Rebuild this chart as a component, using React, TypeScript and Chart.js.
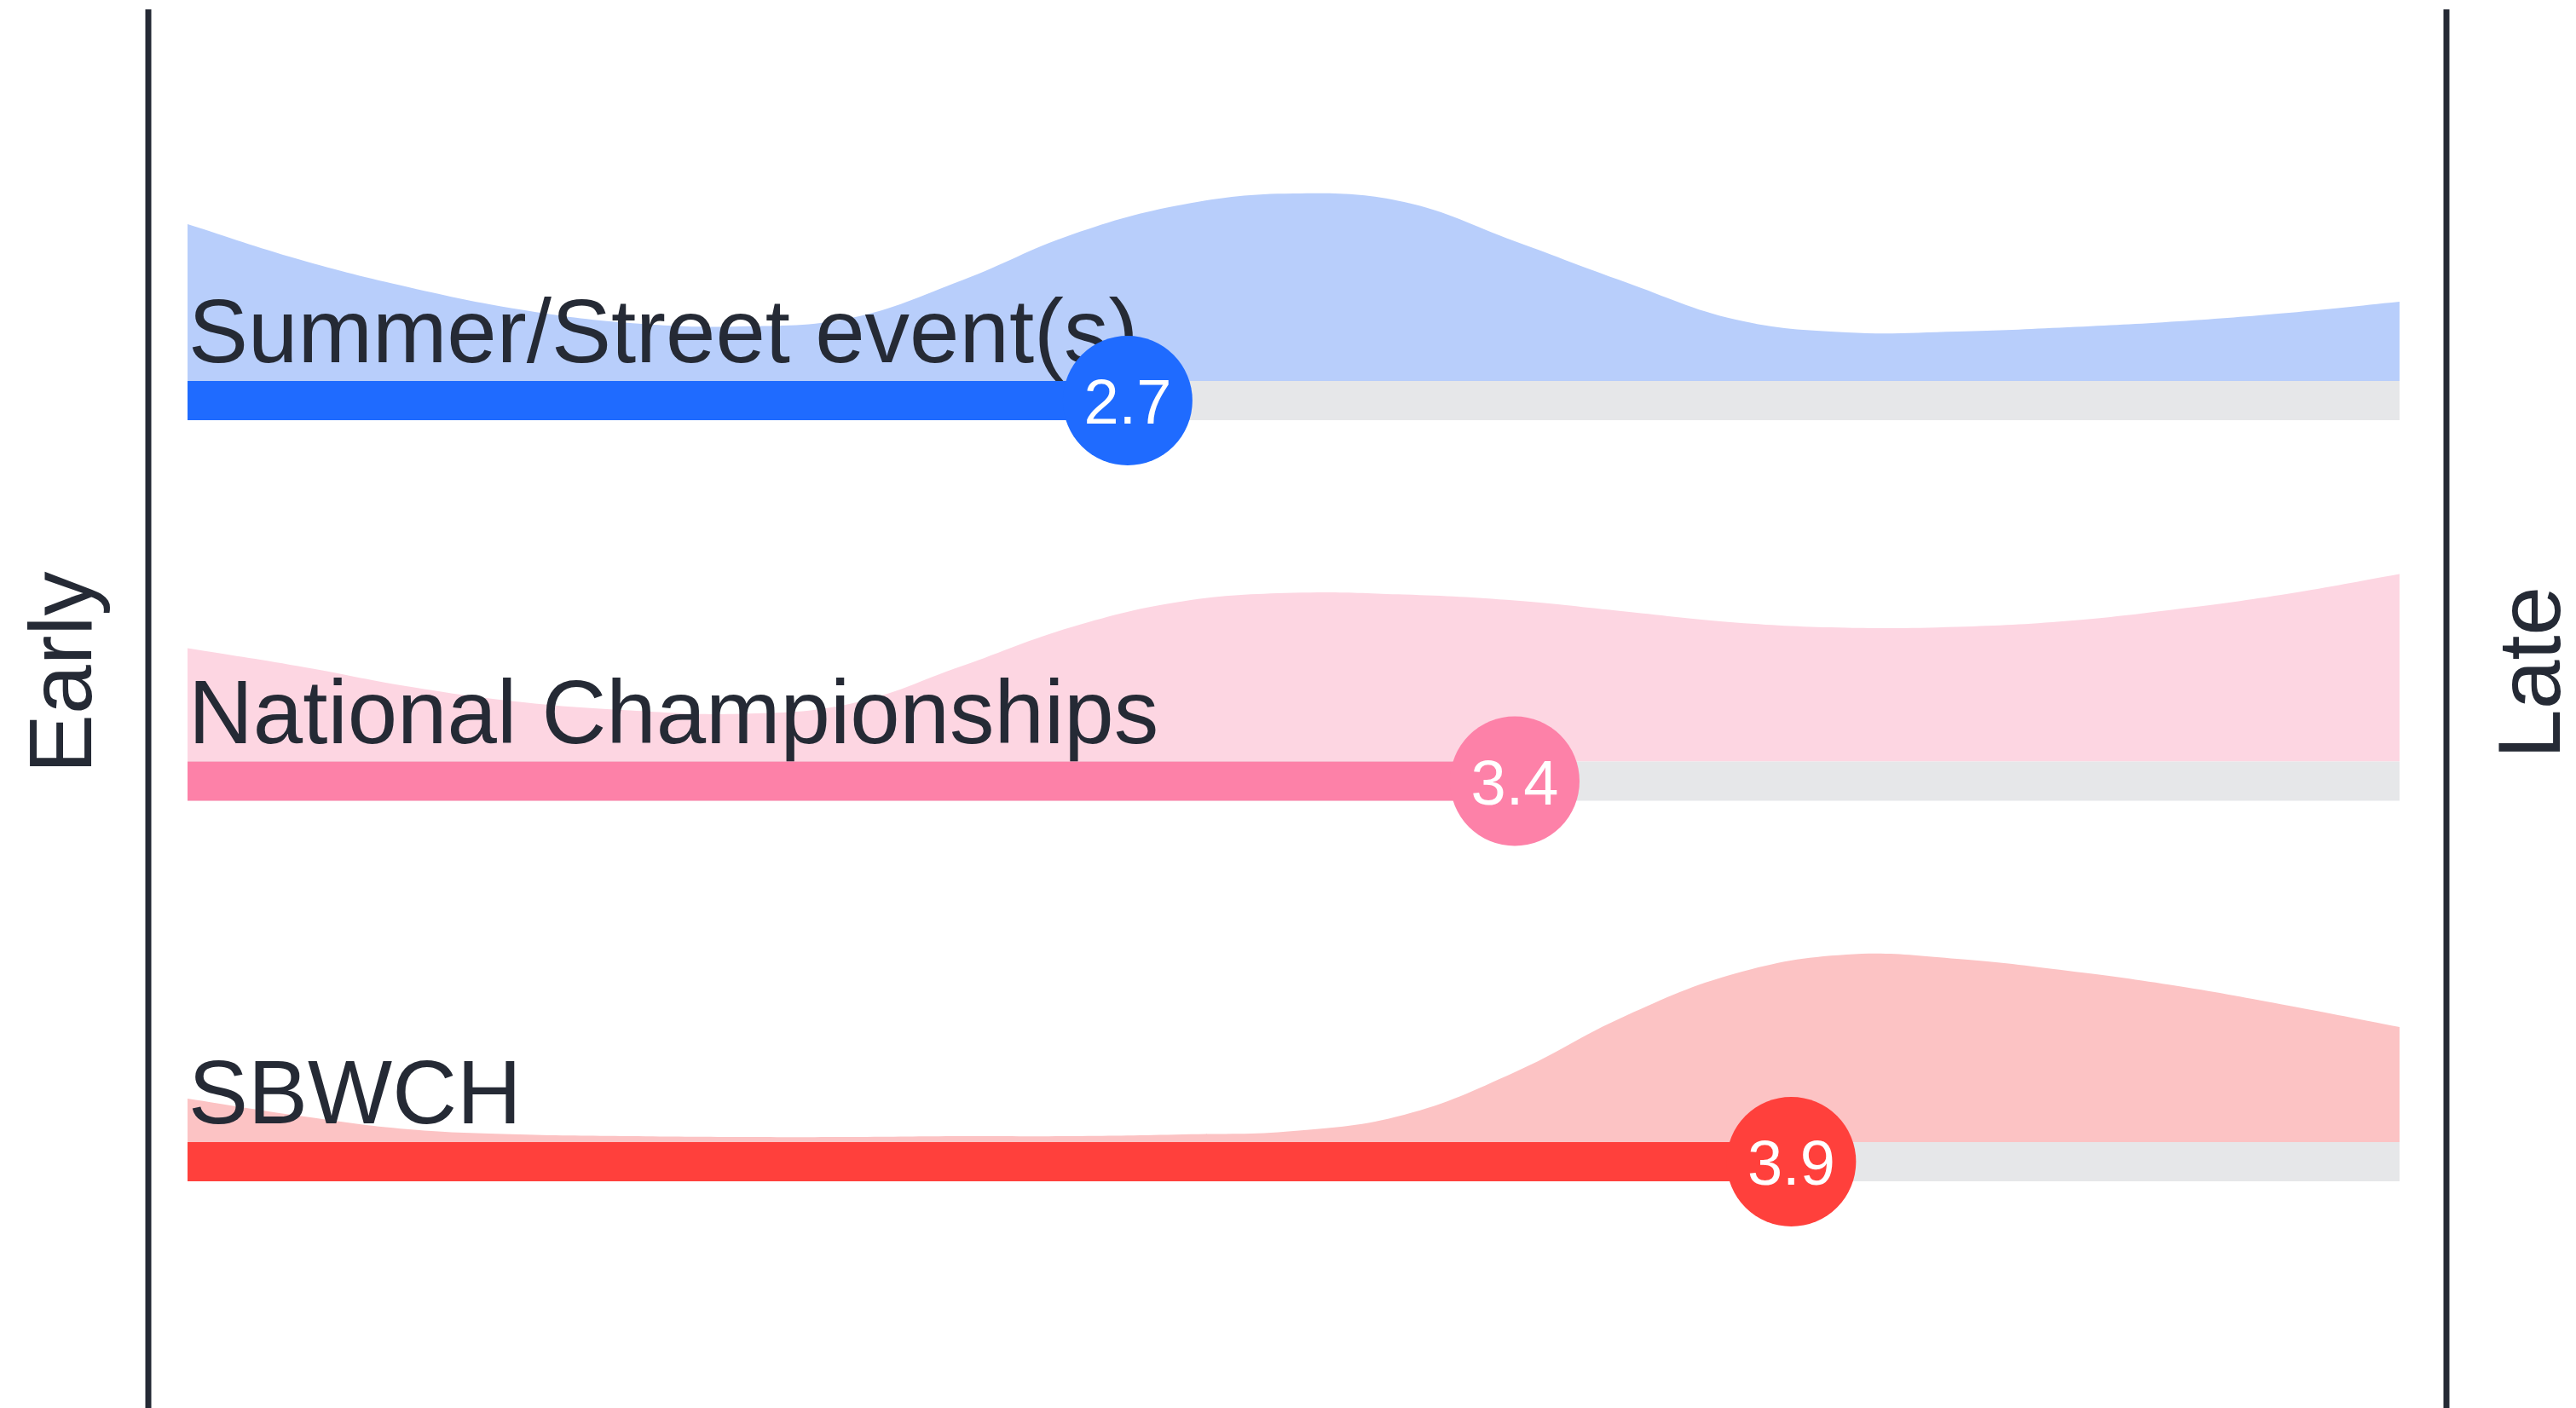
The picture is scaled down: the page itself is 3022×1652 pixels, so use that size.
import { useEffect, useRef } from "react";
import { Chart, registerables } from "chart.js";

Chart.register(...registerables);

// ---------- data ----------
const CATEGORIES = ["Summer/Street event(s)", "National Championships", "SBWCH"];
const MEAN_VALUES = [2.7, 3.4, 3.9];
const SCALE_MIN = 1;
const SCALE_MAX = 5;
const AXIS_LABELS = ["Early", "Late"];

// positions on the 1..5 answer scale where the density ridge was read
const DENSITY_X = [1.0, 1.2, 1.4, 1.6, 1.8, 2.0, 2.2, 2.4, 2.6, 2.8, 3.0, 3.2, 3.4, 3.6, 3.8, 4.0, 4.2, 4.4, 4.6, 4.8, 5.0];
// density (arbitrary units)
const DENSITY_SUMMER = [184, 143, 110, 84, 68, 64, 74, 118, 172, 207, 220, 210, 164, 116, 72, 57, 58, 63, 70, 80, 93];
const DENSITY_NATIONAL = [133, 112, 88, 70, 60, 56, 68, 112, 158, 188, 198, 196, 189, 176, 163, 157, 158, 165, 179, 197, 220];
const DENSITY_SBWCH = [51, 31, 15, 9, 7, 6, 6, 7, 7, 9, 13, 32, 82, 148, 198, 220, 215, 201, 183, 160, 135];
const DENSITIES = [DENSITY_SUMMER, DENSITY_NATIONAL, DENSITY_SBWCH];

// ---------- styles ----------
const BAR_COLORS = ["#1f6bff", "#fd81a8", "#ff403c"];
const AREA_COLORS = ["#b8cefb", "#fdd6e2", "#fcc3c4"];
const TRACK_COLOR = "#e6e7e9";
const INK = "#252a35";
const FONT = "'Liberation Sans', Arial, sans-serif";

const W = 3022;
const H = 1652;
const ROW_PX = 446.5;
const BAR_PX = 46;
const CIRCLE_R = 76;
const PAD_V = CIRCLE_R; // chart.js reserves the point radius at top/bottom
const FIRST_ROW_CENTER_PX = 470; // top row bar centre
const ROW_Y = [2, 1, 0];
const Y_MAX = 2 + (FIRST_ROW_CENTER_PX - PAD_V) / ROW_PX;
const Y_MIN = 2 - (H - PAD_V - FIRST_ROW_CENTER_PX) / ROW_PX;
const BAR_HALF = BAR_PX / 2 / ROW_PX;
const DENSITY_SCALE = 1 / ROW_PX;

export default function App() {
  const ref = useRef<HTMLCanvasElement | null>(null);

  useEffect(() => {
    const canvas = ref.current;
    if (!canvas) return;

    const datasets: any[] = [];
    const areaIndexToRow: Record<number, number> = {};
    const circleIndexToRow: Record<number, number> = {};

    CATEGORIES.forEach((_, r) => {
      const base = ROW_Y[r] + BAR_HALF;
      areaIndexToRow[datasets.length] = r;
      datasets.push({
        label: CATEGORIES[r] + " density",
        data: DENSITY_X.map((x, i) => ({ x, y: base + DENSITIES[r][i] * DENSITY_SCALE })),
        borderWidth: 0,
        borderColor: "rgba(0,0,0,0)",
        backgroundColor: AREA_COLORS[r],
        fill: { value: base },
        pointRadius: 0,
        pointHoverRadius: 0,
        tension: 0.4,
        order: 4,
      });
    });
    CATEGORIES.forEach((_, r) => {
      datasets.push({
        label: CATEGORIES[r] + " track",
        data: [
          { x: SCALE_MIN, y: ROW_Y[r] },
          { x: SCALE_MAX, y: ROW_Y[r] },
        ],
        borderWidth: BAR_PX,
        borderColor: TRACK_COLOR,
        borderCapStyle: "butt",
        pointRadius: 0,
        pointHoverRadius: 0,
        fill: false,
        order: 3,
      });
    });
    CATEGORIES.forEach((_, r) => {
      datasets.push({
        label: CATEGORIES[r] + " bar",
        data: [
          { x: SCALE_MIN, y: ROW_Y[r] },
          { x: MEAN_VALUES[r], y: ROW_Y[r] },
        ],
        borderWidth: BAR_PX,
        borderColor: BAR_COLORS[r],
        borderCapStyle: "butt",
        pointRadius: 0,
        pointHoverRadius: 0,
        fill: false,
        order: 2,
      });
    });
    CATEGORIES.forEach((_, r) => {
      circleIndexToRow[datasets.length] = r;
      datasets.push({
        label: CATEGORIES[r] + " mean",
        data: [{ x: MEAN_VALUES[r], y: ROW_Y[r] }],
        showLine: false,
        pointRadius: CIRCLE_R,
        pointHoverRadius: CIRCLE_R,
        pointBackgroundColor: BAR_COLORS[r],
        pointBorderWidth: 0,
        pointBorderColor: BAR_COLORS[r],
        clip: false,
        order: 1,
      });
    });

    const decor = {
      id: "decor",
      beforeDraw(chart: any) {
        const ctx = chart.ctx;
        ctx.save();
        ctx.fillStyle = "#ffffff";
        ctx.fillRect(0, 0, chart.width, chart.height);
        ctx.restore();
      },
      afterDatasetDraw(chart: any, args: any) {
        const r = areaIndexToRow[args.index];
        if (r === undefined) return;
        const ctx = chart.ctx;
        const xs = chart.scales.x;
        const ys = chart.scales.y;
        const left = xs.getPixelForValue(SCALE_MIN);
        const barTop = ys.getPixelForValue(ROW_Y[r]) - BAR_PX / 2;
        ctx.save();
        ctx.fillStyle = INK;
        ctx.font = `105px ${FONT}`;
        ctx.textAlign = "left";
        ctx.textBaseline = "alphabetic";
        ctx.fillText(CATEGORIES[r], left + 1, barTop - 22);
        ctx.restore();
      },
      afterDatasetsDraw(chart: any) {
        const ctx = chart.ctx;
        ctx.save();
        ctx.fillStyle = "#ffffff";
        ctx.font = `74px ${FONT}`;
        ctx.textAlign = "center";
        ctx.textBaseline = "alphabetic";
        Object.keys(circleIndexToRow).forEach((k) => {
          const idx = Number(k);
          const r = circleIndexToRow[idx];
          const el = chart.getDatasetMeta(idx).data[0];
          ctx.fillText(MEAN_VALUES[r].toFixed(1), el.x, el.y + 27);
        });
        ctx.restore();

        // side rules and labels
        const area = chart.chartArea;
        const leftX = area.left - 46;
        const rightX = area.right + 55;
        ctx.save();
        ctx.strokeStyle = INK;
        ctx.lineWidth = 7;
        ctx.beginPath();
        ctx.moveTo(leftX, 11);
        ctx.lineTo(leftX, chart.height);
        ctx.moveTo(rightX, 11);
        ctx.lineTo(rightX, chart.height);
        ctx.stroke();

        ctx.fillStyle = INK;
        ctx.font = `104px ${FONT}`;
        ctx.textAlign = "center";
        ctx.textBaseline = "alphabetic";
        const midY = 789;
        ctx.translate(107, midY);
        ctx.rotate(-Math.PI / 2);
        ctx.fillText(AXIS_LABELS[0], 0, 0);
        ctx.restore();

        ctx.save();
        ctx.fillStyle = INK;
        ctx.font = `104px ${FONT}`;
        ctx.textAlign = "center";
        ctx.textBaseline = "alphabetic";
        ctx.translate(rightX + 133, midY);
        ctx.rotate(-Math.PI / 2);
        ctx.fillText(AXIS_LABELS[1], 0, 0);
        ctx.restore();
      },
    };

    const chart = new Chart(canvas, {
      type: "line",
      data: { datasets },
      options: {
        responsive: false,
        animation: false,
        devicePixelRatio: 1,
        events: [],
        layout: { padding: { left: 220, right: W - 2815, top: PAD_V, bottom: PAD_V } },
        plugins: {
          legend: { display: false },
          tooltip: { enabled: false },
          title: { display: false },
        },
        scales: {
          x: { type: "linear", min: SCALE_MIN, max: SCALE_MAX, display: false },
          y: { type: "linear", min: Y_MIN, max: Y_MAX, display: false },
        },
      },
      plugins: [decor],
    });

    return () => chart.destroy();
  }, []);

  return (
    <div style={{ position: "fixed", left: 0, top: 0, width: W, height: H, background: "#fff" }}>
      <canvas ref={ref} width={W} height={H} style={{ display: "block", width: W, height: H }} />
    </div>
  );
}
